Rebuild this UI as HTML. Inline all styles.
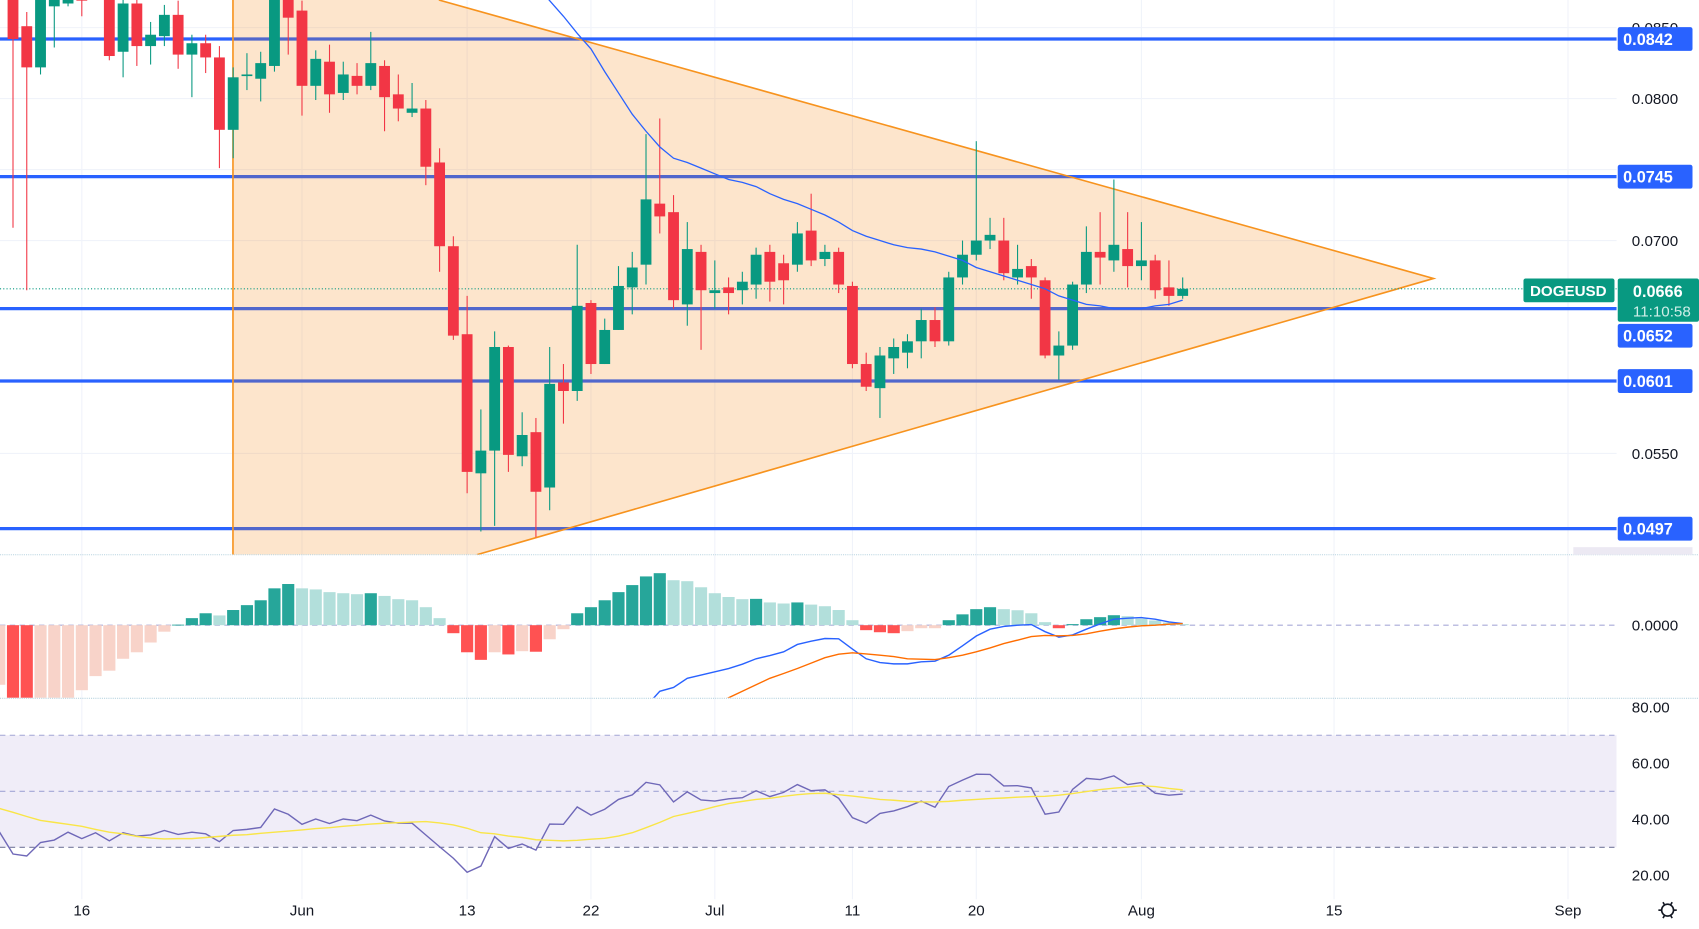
<!DOCTYPE html>
<html><head><meta charset="utf-8"><style>
html,body{margin:0;padding:0;background:#fff;}
svg{display:block;font-family:"Liberation Sans",sans-serif;}
</style></head><body>
<svg id="chart" width="1699" height="929" viewBox="0 0 1568 857.4" preserveAspectRatio="none" xmlns="http://www.w3.org/2000/svg">
<defs>
<clipPath id="cMain"><rect x="0" y="0" width="1492" height="512"/></clipPath>
<clipPath id="cMacd"><rect x="0" y="513" width="1492" height="131"/></clipPath>
<clipPath id="cRsi"><rect x="0" y="646" width="1492" height="170"/></clipPath>
</defs>
<g id="grid"></g>
<g id="main" clip-path="url(#cMain)"></g>
<g id="macd" clip-path="url(#cMacd)"></g>
<g id="rsi" clip-path="url(#cRsi)"></g>
<g id="axes"></g>
</svg>
<script>
// Prices in units of 0.0001 (e.g. 877 = 0.0877), one per daily candle starting May 11
const openP=[877,851,822,865,867,873,877,873,833,867,837,844,859,831,839,829,778,816,814,823,873,862,809,826,804,816,809,823,803,790,793,755,696,634,536,552,625,548,565,526,600,594,656,613,637,667,683,726,720,655,692,663,667,665,669,692,684,683,707,687,692,668,613,596,617,621,629,644,629,674,690,700,700,674,682,672,619,626,669,692,686,694,682,686,667,661];
const highP=[884,861,877,881,877,877,881,877,871,871,854,866,869,845,845,837,822,832,833,877,877,869,834,838,826,825,847,827,817,811,799,765,703,661,581,636,626,579,575,625,613,697,658,645,682,692,775,786,732,713,697,686,674,678,695,697,690,713,733,697,695,671,621,625,631,634,652,653,678,700,770,716,716,697,687,674,636,671,710,720,743,720,713,690,686,674];
const lowP=[709,665,817,836,865,858,871,827,815,823,824,837,821,801,818,751,758,806,798,819,831,788,799,790,799,803,806,777,784,787,739,678,630,522,495,499,537,541,491,510,571,587,606,613,637,648,669,705,652,640,623,652,648,655,659,657,655,678,682,682,663,610,594,575,606,610,617,625,626,669,686,694,672,669,659,617,602,623,663,669,678,667,672,659,654,659];
const closeP=[842,822,873,871,871,869,873,830,867,837,845,859,831,839,829,778,815,817,825,873,857,809,828,803,817,809,825,801,793,793,752,696,633,537,552,625,549,563,523,599,594,654,613,637,668,681,729,717,658,694,665,665,663,671,690,671,672,705,686,692,669,613,597,619,625,629,644,629,674,690,700,704,677,680,674,619,626,669,692,688,697,682,686,665,661,666];
const maStart=38;
const maP=[880,869,858,846,835,819,804,789,777,766,758,755,751,747,743,741,738,733,729,726,722,718,713,707,703,700,697,695,694,692,689,686,681,678,675,672,669,666,661,658,655,654,652,652,652,654,655,658];
const levels=[842,745,652,601,497];
const levelLabels=["0.0842","0.0745","0.0652","0.0601","0.0497"];
const priceTicks=[850,800,750,700,550];
const priceTickLabels=["0.0850","0.0800","0.0750","0.0700","0.0550"];
const lastPrice=666;
// MACD
const histStart=-1;
const histV=[-55,-75,-85,-80,-75,-70,-60,-47,-42,-31,-25,-16,-6,0.5,6.5,11,9,14,18.5,23,34,38,34,33,30.5,29.5,28.6,29.5,27,24,23,16.6,6.5,-7.4,-25,-32,-25,-27,-24,-24.5,-13,-3.7,11,16.6,23,30.5,37,45,48,41.5,40.6,35,29.5,26,24,24.3,21,20,21,19,17.5,14,4.6,-4.6,-6.5,-7.4,-5.5,-2.8,-2.8,4.6,10,14.8,16.6,14.8,13.8,11,2.8,-2.8,1,5.5,7.4,9.2,8.3,6,4.3,2.5,1];
const macdStart=46;
const macdV=[-75,-61,-57.5,-49,-46,-43,-40,-36,-31,-28,-24.6,-17.8,-14.8,-12.3,-12.6,-22,-31,-34.5,-35.7,-35.7,-33.8,-33.2,-27.7,-19,-10,-3.7,-1.2,0,0.6,-6,-11,-9,-3.7,1.2,5.5,6.5,7,5.5,3,1.5];
const sigStart=51;
const signalV=[-74,-67,-61,-55,-49,-44.6,-40,-35,-30,-26.8,-25.5,-26.5,-27.7,-29,-31,-31.4,-31.7,-30,-27.7,-24.6,-21,-17,-13.8,-10.5,-9.5,-9.8,-9.5,-8,-5.5,-3.4,-1.8,-0.6,0,0.9,1.5];
// RSI
const rsiStart=-1;
const rsiV=[35.6,27.6,26.9,31.7,32.6,35.4,33.1,35.2,32.3,35.2,34.0,34.4,36.0,34.6,35.4,34.8,32.0,36.0,36.4,37.1,43.7,41.8,38.2,40.1,38.5,40.1,39.5,41.5,39.4,38.6,38.6,34.4,30.2,26.1,21.1,23.3,33.8,29.6,31.2,29.0,38.3,38.2,44.4,41.5,43.6,47.1,48.7,53.2,52.3,46.2,49.8,46.9,46.5,47.3,47.7,50.2,48.1,49.6,52.4,50.2,50.5,47.5,40.6,38.6,42.1,43.0,44.5,46.5,44.3,51.7,54.0,56.1,56.0,51.9,52.0,51.2,41.8,42.6,50.7,54.6,54.2,55.5,52.4,53.1,49.3,48.6,49.0];
const rsiMaV=[43.9,42.5,41.0,39.6,38.9,38.2,37.5,36.4,35.4,34.8,33.9,33.3,33.0,33.1,33.1,33.5,33.9,34.3,34.5,35.0,35.4,35.8,36.2,36.7,37.0,37.5,37.9,38.3,38.6,38.8,39.0,39.2,38.7,38.0,36.8,35.2,34.8,34.0,33.5,32.7,32.5,32.3,32.5,32.9,33.2,34.0,35.2,37.0,38.9,41.0,42.1,43.2,44.5,45.6,46.4,47.1,47.5,48.2,48.8,49.2,49.3,48.8,48.3,47.7,47.1,46.8,46.4,46.2,46.2,46.4,46.8,47.1,47.4,47.6,47.9,48.1,48.2,48.6,49.2,49.9,50.6,51.1,51.5,52.0,51.7,51.0,50.5];
const rsiTicks=[80,60,40,20];
const dateLabels=["16","Jun","13","22","Jul","11","20","Aug","15","Sep"];
const dateIdx=[5,21,33,42,51,61,70,82,96,113];

const NS="http://www.w3.org/2000/svg";
function el(tag,attrs,parent,text){const e=document.createElementNS(NS,tag);for(const k in attrs)e.setAttribute(k,attrs[k]);if(text!==undefined)e.textContent=text;parent.appendChild(e);return e;}
const xAt=i=>12+12.7*i;
const yP=v=>222-(v-700)*1.31;
const yM=v=>577-v;
const yR=v=>730.3-(v-50)*2.585;
const G=document.getElementById('grid'),M=document.getElementById('main'),MD=document.getElementById('macd'),R=document.getElementById('rsi'),A=document.getElementById('axes');

// grid
dateIdx.forEach(d=>{const l=el('line',{x1:xAt(d),x2:xAt(d),y1:0,y2:830,stroke:'#f0f3fa','stroke-width':1},G);

});
priceTicks.forEach(v=>{const l=el('line',{x1:0,x2:1492,y1:yP(v),y2:yP(v),stroke:'#f0f3fa'},G);

});

// RSI band
const band=el('rect',{x:0,y:yR(70),width:1492,height:yR(30)-yR(70),fill:'#f0edf8'},R);


[[70,'#a3a6d6'],[50,'#a3a6d6'],[30,'#787b9e']].forEach(([v,c])=>{const l=el('line',{x1:0,x2:1492,y1:yR(v),y2:yR(v),stroke:c,'stroke-dasharray':'5,4'},R);

});

// horizontal levels
levels.forEach(v=>{const l=el('line',{x1:0,x2:1492,y1:yP(v),y2:yP(v),stroke:'#2962ff','stroke-width':3},M);

});
// triangle fill
const tri=el('polygon',{points:'215,0 405,0 1323,257 440,512 215,512',fill:'rgba(245,124,0,0.2)'},M);


const tl=el('polyline',{points:'405,0 1323,257 440,512',fill:'none',stroke:'#f7931e','stroke-width':1.5},M);


const vl=el('line',{x1:215,x2:215,y1:0,y2:512,stroke:'#f7931e','stroke-width':1.5},M);


// last price dotted
const lp=el('line',{x1:0,x2:1492,y1:yP(lastPrice),y2:yP(lastPrice),stroke:'#089981','stroke-dasharray':'1,2'},M);



// candles
openP.forEach((o,i)=>{const c=closeP[i],up=c>=o,col=up?'#089981':'#f23645',x=xAt(i);
const g=el('g',{},M);


el('line',{x1:x,x2:x,y1:yP(highP[i]),y2:yP(lowP[i]),stroke:col,'stroke-width':1},g);
const t=Math.min(yP(o),yP(c)),h=Math.max(1.5,Math.abs(yP(o)-yP(c)));
el('rect',{x:x-5,y:t,width:10,height:h,fill:col},g);});

// MA line
const ma=el('polyline',{points:maP.map((v,k)=>xAt(maStart+k)+','+yP(v)).join(' '),fill:'none',stroke:'#2962ff','stroke-width':1.2},M);



// MACD
const z=el('line',{x1:0,x2:1492,y1:yM(0),y2:yM(0),stroke:'#a9aad8','stroke-dasharray':'5,4'},MD);


histV.forEach((v,k)=>{const prev=k>0?histV[k-1]:v;let col;
if(v>=0)col=v>=prev?'#26a69a':'#b2dfdb';else col=v<prev?'#ff5252':'#f8d3c9';
const x=xAt(histStart+k);
const b=el('rect',{x:x-5.6,y:Math.min(yM(v),yM(0)),width:11.2,height:Math.max(0.8,Math.abs(v)),fill:col},MD);

});
const ml=el('polyline',{points:macdV.map((v,k)=>xAt(macdStart+k)+','+yM(v)).join(' '),fill:'none',stroke:'#2962ff','stroke-width':1.3},MD);


const sl=el('polyline',{points:signalV.map((v,k)=>xAt(sigStart+k)+','+yM(v)).join(' '),fill:'none',stroke:'#ff6d00','stroke-width':1.3},MD);



// RSI lines
const rl=el('polyline',{points:rsiV.map((v,k)=>xAt(rsiStart+k)+','+yR(v)).join(' '),fill:'none',stroke:'#6f68b8','stroke-width':1.3},R);


const rm=el('polyline',{points:rsiMaV.map((v,k)=>xAt(rsiStart+k)+','+yR(v)).join(' '),fill:'none',stroke:'#f9e547','stroke-width':1.3},R);



// pane separators
[[512,'#b8d4e0'],[644.5,'#b8d4e0']].forEach(([y,c])=>{const l=el('line',{x1:0,x2:1568,y1:y,y2:y,stroke:c,'stroke-dasharray':'1,1'},A);

});

// price axis
priceTicks.forEach((v,k)=>{const t=el('text',{x:1506,y:yP(v)+5,'font-size':14,fill:'#131722'},A,priceTickLabels[k]);

});
const lowBox=el('rect',{x:1452,y:505,width:110,height:7,fill:'#ece9f3'},A);


levels.forEach((v,k)=>{const y=yP(v);const off=(k===2?25:0);const g=el('g',{},A);


el('rect',{x:1493,y:y-11+off,width:69,height:22,rx:2,fill:'#2962ff'},g);
el('text',{x:1498,y:y+5.5+off,'font-size':15,fill:'#fff','font-weight':'bold'},g,levelLabels[k]);});
const sym=el('g',{},A);


el('rect',{x:1406,y:257,width:84,height:22,rx:2,fill:'#089981'},sym);
el('text',{x:1412,y:273,'font-size':14,fill:'#fff','font-weight':'bold'},sym,'DOGEUSD');
el('rect',{x:1493,y:257,width:75,height:40,rx:2,fill:'#089981'},sym);
el('text',{x:1507,y:274,'font-size':15,fill:'#fff','font-weight':'bold'},sym,'0.0666');
el('text',{x:1507,y:292,'font-size':14,fill:'#cfeee8'},sym,'11:10:58');
const mz=el('text',{x:1506,y:582,'font-size':14,fill:'#131722'},A,'0.0000');


rsiTicks.forEach(v=>{const t=el('text',{x:1506,y:yR(v)+5,'font-size':14,fill:'#131722'},A,v.toFixed(2));

});
// date axis
dateLabels.forEach((s,k)=>{const t=el('text',{x:xAt(dateIdx[k]),y:845,'font-size':14,fill:'#131722','text-anchor':'middle'},A,s);

});
// gear
const gear=el('g',{transform:'translate(1539,840)',stroke:'#131722','stroke-width':1.5,fill:'none'},A);


el('circle',{cx:0,cy:0,r:5.5},gear);
for(let a=0;a<360;a+=60){const r=a*Math.PI/180;el('line',{x1:5.5*Math.cos(r),y1:5.5*Math.sin(r),x2:8.5*Math.cos(r),y2:8.5*Math.sin(r)},gear);}
</script>
</body></html>
